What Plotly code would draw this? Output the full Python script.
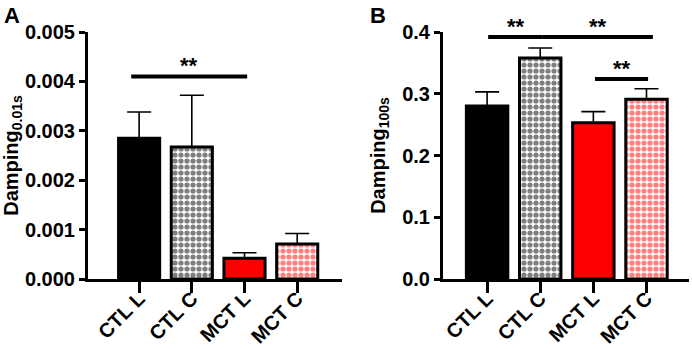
import plotly.graph_objects as go

categories = ["CTL L", "CTL C", "MCT L", "MCT C"]

damp_001_mean = [0.00285, 0.00267, 0.00042, 0.00071]
damp_001_err = [0.00338, 0.00372, 0.00053, 0.00092]

damp_100_mean = [0.280, 0.358, 0.253, 0.291]
damp_100_err = [0.303, 0.374, 0.271, 0.308]

y_ticks_A = [0.000, 0.001, 0.002, 0.003, 0.004, 0.005]
y_tick_labels_A = ["0.000", "0.001", "0.002", "0.003", "0.004", "0.005"]
y_ticks_B = [0.0, 0.1, 0.2, 0.3, 0.4]
y_tick_labels_B = ["0.0", "0.1", "0.2", "0.3", "0.4"]

# significance brackets: (x start, x end, y level) in category/data units
sig_A = [(-0.15, 2.05, 0.0041)]
sig_B = [(0.02, 1.05, 0.392), (1.05, 3.12, 0.392), (2.03, 3.03, 0.324)]
sig_label = "**"

RED = "#ff0000"
fills = ["black", "white", RED, "white"]
pattern_fg = [None, "black", None, RED]

FONT = "Liberation Sans, Arial, sans-serif"

fig = go.Figure()


def add_bars(means, errs, xa, ya):
    for i, cat in enumerate(categories):
        pat = dict(shape="")
        if pattern_fg[i] is not None:
            pat = dict(shape=".", fgcolor=pattern_fg[i], bgcolor="white",
                       size=6, solidity=0.6, fillmode="overlay")
        fig.add_trace(go.Bar(
            x=[cat], y=[means[i]], xaxis=xa, yaxis=ya,
            width=0.78,
            marker=dict(color=fills[i], line=dict(color="black", width=3), pattern=pat),
            error_y=dict(type="data", symmetric=False,
                         array=[errs[i] - means[i]], arrayminus=[0],
                         color="black", thickness=1.6, width=12),
            showlegend=False,
        ))


add_bars(damp_001_mean, damp_001_err, "x", "y")
add_bars(damp_100_mean, damp_100_err, "x2", "y2")

shapes = []
annotations = []
for (x0, x1, yv) in sig_A:
    shapes.append(dict(type="line", xref="x", yref="y", x0=x0, x1=x1, y0=yv, y1=yv,
                       line=dict(color="black", width=4)))
    annotations.append(dict(xref="x", yref="y", x=(x0 + x1) / 2, y=yv, text=sig_label,
                            showarrow=False, yanchor="bottom", yshift=-4,
                            font=dict(family=FONT, size=22, color="black", weight="bold")))
for (x0, x1, yv) in sig_B:
    shapes.append(dict(type="line", xref="x2", yref="y2", x0=x0, x1=x1, y0=yv, y1=yv,
                       line=dict(color="black", width=4)))
    annotations.append(dict(xref="x2", yref="y2", x=(x0 + x1) / 2, y=yv, text=sig_label,
                            showarrow=False, yanchor="bottom", yshift=-4,
                            font=dict(family=FONT, size=22, color="black", weight="bold")))

annotations.append(dict(xref="paper", yref="paper", x=2 / 692, y=1 - 1 / 349, text="A",
                        showarrow=False, xanchor="left", yanchor="top",
                        font=dict(family=FONT, size=22, color="black", weight="bold")))
annotations.append(dict(xref="paper", yref="paper", x=368 / 692, y=1 - 1 / 349, text="B",
                        showarrow=False, xanchor="left", yanchor="top",
                        font=dict(family=FONT, size=22, color="black", weight="bold")))

tickfont = dict(family=FONT, size=20, color="black", weight="bold")
titlefont = dict(family=FONT, size=20, color="black", weight="bold")

xaxis_common = dict(showline=True, linewidth=3, linecolor="black", ticks="outside",
                    ticklen=11, tickwidth=2.5, tickcolor="black", tickangle=-45,
                    tickfont=tickfont, showgrid=False, zeroline=False, fixedrange=True,
                    type="category", automargin=False, ticklabelstandoff=-14)
yaxis_common = dict(showline=True, linewidth=3, linecolor="black", ticks="outside",
                    ticklen=6, tickwidth=2.5, tickcolor="black",
                    tickfont=tickfont, showgrid=False, zeroline=False, fixedrange=True,
                    automargin=False)

ybot = (349 - 279) / 349
ytop = (349 - 32) / 349

fig.update_layout(
    width=692, height=349,
    margin=dict(l=0, r=0, t=0, b=0),
    paper_bgcolor="white", plot_bgcolor="white",
    barmode="overlay",
    shapes=shapes, annotations=annotations,
    xaxis=dict(xaxis_common, domain=[88 / 692, 342 / 692], range=[-0.97, 3.85], anchor="y"),
    yaxis=dict(yaxis_common, domain=[ybot, ytop], range=[0, 0.005], anchor="x",
               tickvals=y_ticks_A, ticktext=y_tick_labels_A,
               title=dict(text="Damping<sub>0.01s</sub>", font=titlefont, standoff=8)),
    xaxis2=dict(xaxis_common, domain=[443 / 692, 689 / 692], range=[-0.83, 3.80], anchor="y2"),
    yaxis2=dict(yaxis_common, domain=[ybot, ytop], range=[0, 0.4], anchor="x2",
                tickvals=y_ticks_B, ticktext=y_tick_labels_B,
                title=dict(text="Damping<sub>100s</sub>", font=titlefont, standoff=12)),
)

fig.write_html("out.html", config={"displayModeBar": False},
               post_script="document.body.style.margin='0';")
